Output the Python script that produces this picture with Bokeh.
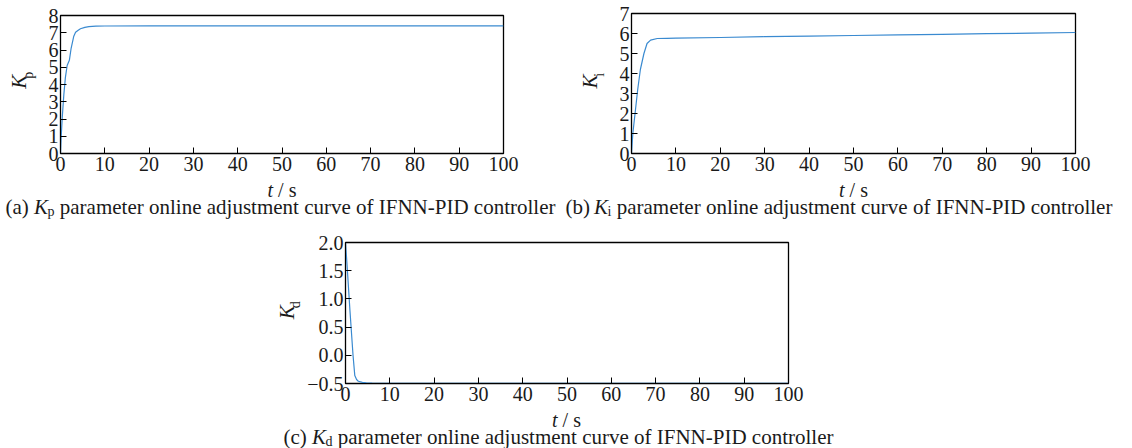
import math
from bokeh.plotting import figure
from bokeh.models import Range1d, FixedTicker, CustomJSTickFormatter, Spacer
from bokeh.layouts import column, row
from bokeh.core.properties import value
from bokeh.embed import file_html
from bokeh.resources import INLINE

# ---- data ----
t_kp = [0, 0.15, 0.4, 0.75, 1.1, 1.5, 2.0, 2.4, 3.0, 3.4, 4.0, 4.5, 5.5, 6.4, 8.0, 10, 20, 40, 60, 80, 100]
kp = [0, 0.95, 2.1, 3.4, 4.4, 5.1, 5.4, 6.1, 6.8, 7.03, 7.15, 7.23, 7.31, 7.35, 7.38, 7.39, 7.4, 7.4, 7.4, 7.4, 7.4]

t_ki = [0, 0.3, 0.9, 1.4, 2.0, 2.8, 3.5, 4.3, 5.8, 8, 10, 20, 30, 40, 50, 60, 70, 80, 90, 100]
ki = [0, 1.0, 2.2, 3.2, 4.2, 5.0, 5.5, 5.67, 5.75, 5.76, 5.77, 5.8, 5.84, 5.87, 5.9, 5.93, 5.96, 5.99, 6.02, 6.05]

t_kd = [0, 0.35, 1.0, 1.7, 2.1, 2.5, 2.9, 3.8, 4.7, 6, 10, 20, 50, 100]
kd = [2.0, 1.6, 0.8, 0.0, -0.36, -0.43, -0.46, -0.48, -0.49, -0.495, -0.497, -0.497, -0.497, -0.497]

x_ticks = [0, 10, 20, 30, 40, 50, 60, 70, 80, 90, 100]
kp_ticks = [0, 1, 2, 3, 4, 5, 6, 7, 8]
ki_ticks = [0, 1, 2, 3, 4, 5, 6, 7]
kd_ticks = [-0.5, 0.0, 0.5, 1.0, 1.5, 2.0]

cap_rest = "parameter online adjustment curve of IFNN-PID controller"

FONT = "Liberation Serif"
TXT = "#1a1a1a"
LINE = "#3a8ad0"


def make_fig(w, h, bl, br, bt, bb, yr, yticks):
    p = figure(width=w, height=h, output_backend="svg", toolbar_location=None, title=None,
               x_range=Range1d(0, 100), y_range=Range1d(*yr),
               min_border_left=bl, min_border_right=br, min_border_top=bt, min_border_bottom=bb)
    p.xgrid.visible = False
    p.ygrid.visible = False
    p.outline_line_color = "black"
    p.outline_line_width = 1.3
    p.outline_line_alpha = 1
    p.background_fill_color = "white"
    p.border_fill_color = "white"
    p.xaxis.ticker = FixedTicker(ticks=x_ticks)
    p.yaxis.ticker = FixedTicker(ticks=yticks)
    for ax in (p.xaxis, p.yaxis):
        ax.major_tick_in = 6
        ax.major_tick_out = 0
        ax.minor_tick_line_color = None
        ax.axis_line_color = "black"
        ax.major_tick_line_color = "black"
        ax.major_label_text_font = FONT
        ax.major_label_text_font_size = "20px"
        ax.major_label_text_color = TXT
    p.xaxis.major_label_standoff = 3
    p.yaxis.major_label_standoff = 2
    return p


def text_fig(w, h):
    f = figure(width=w, height=h, output_backend="svg", toolbar_location=None, title=None,
               x_range=Range1d(0, w), y_range=Range1d(0, h),
               x_axis_type=None, y_axis_type=None, min_border=0)
    f.grid.visible = False
    f.outline_line_color = None
    f.background_fill_color = "white"
    f.border_fill_color = "white"
    return f


def txt(f, s, x, y_top, size, italic=False, align="left", angle=0.0):
    # y_top: pixels from the top of the text figure (text middle)
    f.text(x=[x], y=[f.height - y_top], text=[s],
           text_font=value(FONT), text_font_size=value(f"{size}px"),
           text_font_style=value("italic" if italic else "normal"),
           text_align=value(align), text_baseline=value("middle"),
           angle=angle, text_color=TXT)


def caption(f, letter, sub, subw, x0, xmid, ts_mid, cap_mid):
    txt(f, "t", xmid - 14.5, ts_mid, 20, italic=True)
    txt(f, "/ s", xmid - 3.9, ts_mid, 20)
    txt(f, f"({letter})", x0, cap_mid, 21)
    txt(f, "K", x0 + 28.6, cap_mid, 21, italic=True)
    txt(f, sub, x0 + 42.0, cap_mid + 4.5, 14)
    txt(f, cap_rest, x0 + 42.0 + subw + 5.3, cap_mid, 21)


def ylabel(f, sub, xc, dx_sub, y_start, y_sub):
    txt(f, "K", xc, y_start, 21, italic=True, angle=math.pi / 2)
    txt(f, sub, xc + dx_sub, y_sub, 14, angle=math.pi / 2)


# ---- panel (a) ----
pa = make_fig(520, 179, 20, 57, 15, 26, (0, 8), kp_ticks)
pa.line(t_kp, kp, line_color=LINE, line_width=1.2)
ya = text_fig(40, 179)
ylabel(ya, "p", 18.5, 9, 95, 82)
ca = text_fig(560, 41)
caption(ca, "a", "p", 7.0, 5, 281.5, 10, 27.5)

# ---- panel (b) ----
pb = make_fig(522, 179, 21, 57, 13, 26, (0, 7), ki_ticks)
pb.line(t_ki, ki, line_color=LINE, line_width=1.2)
yb = text_fig(50, 179)
ylabel(yb, "i", 29.5, 9, 96, 81)
cb = text_fig(572, 41)
caption(cb, "b", "i", 3.9, 5, 293, 10, 27.5)

# ---- panel (c) ----
pc = make_fig(502, 189, 40, 18, 22, 26, (-0.5, 2.0), kd_ticks)
pc.yaxis.formatter = CustomJSTickFormatter(
    code="return (tick < 0 ? '\\u2212' : '') + Math.abs(tick).toFixed(1);")
pc.line(t_kd, kd, line_color=LINE, line_width=1.2)
yc = text_fig(34, 189)
ylabel(yc, "d", 16.5, 8, 103, 88)
cc = text_fig(580, 39)
caption(cc, "c", "d", 7.0, 13, 296, 10, 27)

layout = column(
    row(column(row(ya, pa), ca), column(row(yb, pb), cb)),
    row(Spacer(width=270, height=228), column(row(yc, pc), cc)),
)

open("out.html", "w").write(file_html(layout, INLINE))
